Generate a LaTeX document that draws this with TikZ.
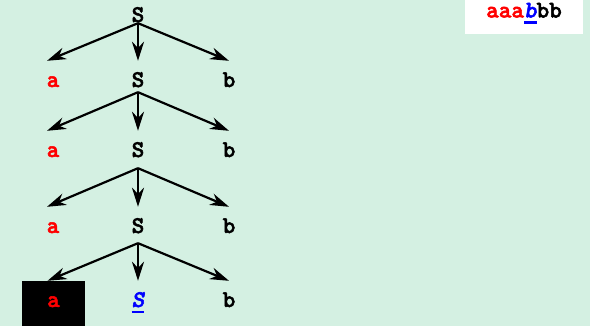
\documentclass[tikz,border=0pt]{standalone}
\usepackage{fontspec}
\setmonofont{lmmonolt10-bold.otf}[FakeBold=2.2,ItalicFont=lmmonolt10-boldoblique.otf,BoldFont=lmmonolt10-bold.otf,BoldItalicFont=lmmonolt10-boldoblique.otf]
\usetikzlibrary{arrows.meta}

\definecolor{bgmint}{HTML}{D4F0E2}
\newcommand\tok{\ttfamily\bfseries\fontsize{24}{28}\selectfont}
\newcommand\cursym[1]{{\color{blue}\setbox0\hbox{\itshape #1}\rlap{\rule[-6.5pt]{\wd0}{2.5pt}}\box0}}

\begin{document}
\begin{tikzpicture}[x=1pt,y=-1pt,
  lbl/.style={font=\tok,inner sep=0pt,text height=13pt,text depth=0pt,minimum height=39pt},
  term/.style={lbl,text=red},
  arr/.style={-{Stealth[length=19pt,width=12pt,inset=6pt]},line width=2.2pt}]
\fill[bgmint] (0,0) rectangle (590,326);
\useasboundingbox (0,0) rectangle (590,326);
% input string
\fill[white] (465,0) rectangle (583,34);
\node[font=\tok,inner sep=0pt,text height=13pt,text depth=0pt] (input) at (524,11) {\textcolor{red}{aaa}\cursym{b}bb};
% derivation tree
\node[lbl] (s0) at (138,15.5) {S};
\node[term] (a1) at (53,80.5) {a};
\node[lbl] (s1) at (138,80.5) {S};
\node[lbl] (b1) at (229,80.5) {b};
\node[term] (a2) at (53,150.5) {a};
\node[lbl] (s2) at (138,150.5) {S};
\node[lbl] (b2) at (229,150.5) {b};
\node[term] (a3) at (53,226.5) {a};
\node[lbl] (s3) at (138,226.5) {S};
\node[lbl] (b3) at (229,226.5) {b};
\node[term,text depth=6pt,minimum height=45pt,minimum width=63pt,fill=black] (a4) at (53.5,303.5) {a};
\node[lbl] (s4) at (138,300.5) {\cursym{S}};
\node[lbl] (b4) at (229,300.5) {b};
\draw[arr] ([yshift=12pt]s0.south) -- ([xshift=-6pt]a1.north);
\draw[arr] ([yshift=12pt]s0.south) -- (s1.north);
\draw[arr] ([yshift=12pt]s0.south) -- (b1.north);
\draw[arr] ([yshift=8pt]s1.south) -- ([xshift=-6pt]a2.north);
\draw[arr] ([yshift=8pt]s1.south) -- (s2.north);
\draw[arr] ([yshift=8pt]s1.south) -- (b2.north);
\draw[arr] ([yshift=2pt]s2.south) -- ([xshift=-6pt]a3.north);
\draw[arr] ([yshift=2pt]s2.south) -- (s3.north);
\draw[arr] ([yshift=2pt]s2.south) -- (b3.north);
\draw[arr] ([yshift=3pt]s3.south) -- ([xshift=-6pt]a4.north);
\draw[arr] ([yshift=3pt]s3.south) -- (s4.north);
\draw[arr] ([yshift=3pt]s3.south) -- (b4.north);
\end{tikzpicture}
\end{document}
